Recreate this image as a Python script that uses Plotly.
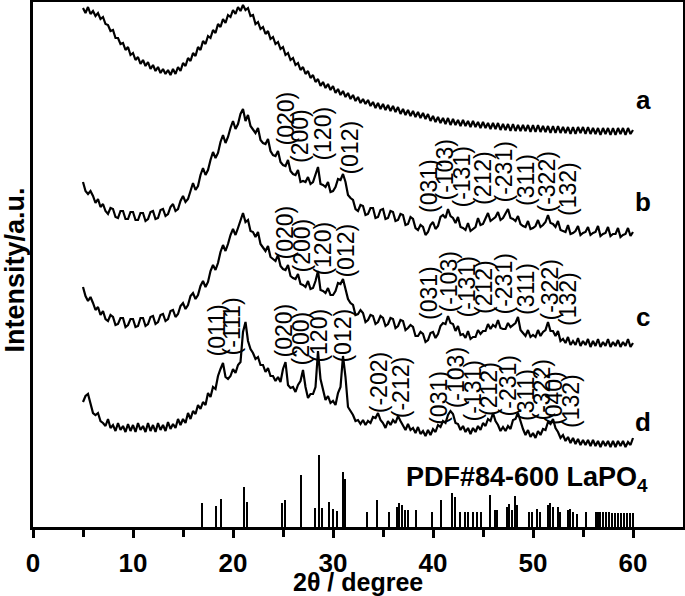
import plotly.graph_objects as go

# 2-theta sampling grid (degrees), step 0.25
two_theta = [
    5.0, 5.25, 5.5, 5.75, 6.0, 6.25, 6.5, 6.75, 7.0, 7.25, 7.5, 7.75, 8.0, 8.25, 8.5, 8.75,
    9.0, 9.25, 9.5, 9.75, 10.0, 10.25, 10.5, 10.75, 11.0, 11.25, 11.5, 11.75, 12.0, 12.25, 12.5, 12.75,
    13.0, 13.25, 13.5, 13.75, 14.0, 14.25, 14.5, 14.75, 15.0, 15.25, 15.5, 15.75, 16.0, 16.25, 16.5, 16.75,
    17.0, 17.25, 17.5, 17.75, 18.0, 18.25, 18.5, 18.75, 19.0, 19.25, 19.5, 19.75, 20.0, 20.25, 20.5, 20.75,
    21.0, 21.25, 21.5, 21.75, 22.0, 22.25, 22.5, 22.75, 23.0, 23.25, 23.5, 23.75, 24.0, 24.25, 24.5, 24.75,
    25.0, 25.25, 25.5, 25.75, 26.0, 26.25, 26.5, 26.75, 27.0, 27.25, 27.5, 27.75, 28.0, 28.25, 28.5, 28.75,
    29.0, 29.25, 29.5, 29.75, 30.0, 30.25, 30.5, 30.75, 31.0, 31.25, 31.5, 31.75, 32.0, 32.25, 32.5, 32.75,
    33.0, 33.25, 33.5, 33.75, 34.0, 34.25, 34.5, 34.75, 35.0, 35.25, 35.5, 35.75, 36.0, 36.25, 36.5, 36.75,
    37.0, 37.25, 37.5, 37.75, 38.0, 38.25, 38.5, 38.75, 39.0, 39.25, 39.5, 39.75, 40.0, 40.25, 40.5, 40.75,
    41.0, 41.25, 41.5, 41.75, 42.0, 42.25, 42.5, 42.75, 43.0, 43.25, 43.5, 43.75, 44.0, 44.25, 44.5, 44.75,
    45.0, 45.25, 45.5, 45.75, 46.0, 46.25, 46.5, 46.75, 47.0, 47.25, 47.5, 47.75, 48.0, 48.25, 48.5, 48.75,
    49.0, 49.25, 49.5, 49.75, 50.0, 50.25, 50.5, 50.75, 51.0, 51.25, 51.5, 51.75, 52.0, 52.25, 52.5, 52.75,
    53.0, 53.25, 53.5, 53.75, 54.0, 54.25, 54.5, 54.75, 55.0, 55.25, 55.5, 55.75, 56.0, 56.25, 56.5, 56.75,
    57.0, 57.25, 57.5, 57.75, 58.0, 58.25, 58.5, 58.75, 59.0, 59.25, 59.5, 59.75, 60.0]

# stacked intensities (offset, a.u.), one row per degree
curve_a = [
    519, 514, 520, 513, 516, 511, 514, 508, 510, 503, 502, 496, 497, 489, 489, 483,
    484, 477, 480, 472, 474, 467, 470, 463, 467, 461, 465, 458, 462, 456, 460, 454,
    458, 453, 457, 452, 458, 453, 460, 456, 464, 461, 469, 466, 474, 471, 480, 477,
    486, 483, 491, 489, 497, 494, 503, 500, 508, 504, 512, 510, 517, 513, 520, 516,
    522, 517, 519, 511, 512, 503, 505, 498, 500, 493, 496, 488, 490, 483, 485, 478,
    480, 472, 474, 467, 469, 462, 464, 457, 460, 453, 456, 449, 452, 445, 448, 441,
    445, 439, 443, 437, 441, 434, 438, 432, 436, 430, 434, 428, 432, 426, 430, 424,
    428, 423, 427, 421, 425, 419, 424, 418, 423, 417, 422, 416, 421, 415, 420, 413,
    418, 412, 417, 411, 416, 410, 415, 409, 414, 408, 413, 406, 411, 405, 410, 404,
    409, 403, 409, 402, 408, 402, 407, 401, 407, 401, 406, 400, 406, 400, 405, 399,
    405, 399, 404, 398, 404, 398, 404, 397, 403, 397, 403, 396, 403, 396, 402, 396,
    402, 396, 402, 395, 402, 395, 402, 395, 401, 395, 401, 394, 401, 394, 401, 394,
    400, 394, 400, 393, 400, 393, 400, 394, 400, 393, 400, 393, 399, 393, 399, 392,
    399, 393, 399, 392, 399, 392, 399, 393, 399, 392, 399, 393, 397]

curve_b = [
    345, 336, 333, 336, 331, 324, 328, 320, 323, 316, 313, 319, 318, 310, 309, 316,
    316, 308, 308, 315, 315, 307, 307, 314, 314, 306, 308, 315, 316, 308, 309, 317,
    318, 311, 313, 320, 323, 316, 318, 326, 331, 325, 328, 337, 344, 337, 341, 352,
    359, 352, 357, 367, 375, 369, 374, 385, 392, 384, 390, 399, 406, 398, 403, 413,
    418, 406, 412, 401, 398, 394, 399, 387, 384, 383, 388, 376, 372, 371, 376, 365,
    362, 361, 367, 356, 353, 352, 357, 345, 346, 345, 350, 343, 345, 352, 360, 343,
    342, 340, 345, 335, 336, 340, 348, 347, 353, 345, 332, 329, 327, 318, 316, 322,
    321, 312, 313, 319, 319, 309, 310, 317, 318, 308, 309, 316, 315, 306, 307, 313,
    312, 302, 303, 310, 308, 299, 297, 302, 300, 292, 295, 302, 305, 298, 301, 310,
    312, 309, 318, 311, 309, 304, 310, 300, 299, 297, 304, 296, 298, 300, 309, 302,
    303, 308, 314, 306, 308, 310, 315, 307, 309, 313, 318, 309, 308, 306, 311, 303,
    301, 300, 306, 298, 299, 301, 307, 300, 302, 305, 312, 304, 303, 300, 306, 297,
    296, 295, 302, 293, 294, 296, 301, 292, 294, 295, 300, 292, 294, 295, 301, 291,
    293, 294, 300, 291, 293, 293, 299, 290, 292, 293, 299, 291, 295]

curve_c = [
    240, 231, 226, 230, 224, 217, 220, 212, 216, 208, 206, 212, 210, 202, 203, 209,
    209, 200, 202, 208, 208, 200, 201, 209, 209, 201, 203, 210, 211, 203, 205, 212,
    213, 206, 208, 216, 217, 210, 213, 221, 224, 218, 222, 231, 234, 228, 232, 241,
    246, 240, 245, 256, 262, 257, 264, 275, 282, 276, 283, 292, 298, 292, 299, 307,
    314, 305, 307, 296, 295, 290, 295, 283, 280, 276, 281, 270, 268, 266, 272, 261,
    258, 257, 262, 251, 249, 248, 253, 243, 242, 240, 246, 238, 239, 246, 256, 237,
    236, 234, 239, 232, 232, 236, 244, 243, 248, 238, 228, 224, 222, 212, 213, 217,
    214, 205, 207, 212, 211, 203, 205, 211, 209, 201, 203, 209, 208, 199, 201, 207,
    206, 197, 199, 202, 200, 191, 191, 195, 193, 185, 187, 194, 195, 189, 193, 201,
    204, 203, 211, 204, 203, 196, 201, 192, 193, 189, 196, 188, 190, 190, 197, 193,
    196, 196, 203, 198, 202, 200, 207, 199, 198, 198, 204, 200, 202, 204, 210, 197,
    194, 191, 197, 190, 192, 190, 197, 191, 195, 197, 205, 196, 196, 191, 196, 186,
    188, 184, 190, 182, 186, 182, 189, 181, 186, 182, 188, 180, 186, 181, 188, 180,
    185, 181, 188, 180, 185, 181, 187, 180, 185, 181, 188, 180, 184]

curve_d = [
    125, 131, 133, 122, 114, 112, 114, 106, 104, 101, 108, 99, 102, 96, 104, 97,
    101, 95, 103, 96, 102, 95, 104, 97, 101, 95, 104, 96, 102, 95, 104, 97,
    102, 96, 105, 98, 103, 99, 108, 102, 108, 104, 114, 108, 116, 113, 122, 118,
    125, 122, 134, 130, 140, 138, 151, 158, 164, 150, 148, 151, 158, 154, 162, 165,
    195, 205, 186, 178, 174, 168, 170, 162, 162, 155, 159, 151, 151, 146, 150, 145,
    158, 165, 142, 139, 140, 135, 142, 146, 157, 140, 129, 133, 133, 140, 176, 148,
    136, 127, 131, 124, 126, 122, 134, 140, 171, 150, 120, 116, 112, 106, 107, 103,
    107, 102, 106, 104, 110, 109, 114, 107, 104, 99, 106, 102, 107, 104, 111, 106,
    102, 97, 103, 97, 99, 94, 100, 93, 96, 91, 97, 92, 98, 95, 102, 100,
    106, 104, 112, 116, 113, 104, 103, 97, 101, 95, 99, 93, 99, 95, 101, 97,
    104, 101, 108, 106, 114, 106, 102, 96, 100, 96, 101, 98, 107, 108, 114, 105,
    98, 92, 97, 90, 94, 89, 96, 92, 98, 97, 105, 103, 108, 99, 95, 89,
    92, 86, 90, 84, 89, 83, 88, 82, 87, 82, 87, 81, 87, 81, 86, 80,
    86, 81, 86, 80, 86, 80, 86, 81, 86, 80, 85, 82, 89]

# PDF#84-600 LaPO4 reference lines
pdf_pos = [16.9, 18.3, 18.8, 21.1, 21.4, 24.9, 25.2, 26.8, 28.2, 28.6, 28.9, 29.6, 30.0, 30.4,
           31.0, 31.2, 33.4, 34.4, 35.6, 36.4, 36.6, 36.9, 37.2, 37.5, 38.3, 39.9, 40.8, 41.9,
           42.2, 42.7, 43.2, 43.5, 44.0, 44.4, 44.8, 45.7, 46.2, 46.4, 47.4, 47.6, 47.9, 48.2,
           48.4, 49.6, 49.9, 50.4, 50.7, 51.5, 51.7, 52.0, 52.5, 52.7, 53.5, 53.7, 54.0, 54.4,
           55.3, 56.3, 56.5, 56.7, 57.0, 57.3, 57.6, 57.9, 58.2, 58.5, 58.8, 59.1, 59.4, 59.7, 60.0]
pdf_int = [24, 21, 28, 40, 25, 24, 27, 52, 19, 72, 19, 25, 18, 16,
           55, 48, 15, 27, 15, 20, 24, 22, 17, 17, 17, 15, 27, 34,
           30, 15, 15, 15, 15, 15, 15, 32, 17, 17, 20, 23, 17, 31,
           22, 15, 15, 18, 15, 22, 24, 20, 20, 15, 17, 18, 15, 13,
           15, 15, 15, 15, 15, 15, 15, 14, 14, 14, 14, 14, 14, 14, 14]

# hkl labels: text, peak position, label base height
b_hkl = ['(020)', '(200)', '(120)', '(012)', '(031)', '(-103)', '(-131)', '(212)',
         '(-231)', '(311)', '(-322)', '(132)']
b_hkl_x = [25.25, 26.7, 28.96, 31.66, 39.6, 41.1, 42.8, 45.0, 47.0, 49.3, 51.3, 53.5]
b_hkl_y = [379, 362, 364, 350, 312, 324, 317, 320, 322, 319, 312, 309]

c_hkl = ['(020)', '(200)', '(120)', '(012)', '(031)', '(-103)', '(-131)', '(212)',
         '(-231)', '(311)', '(-322)', '(132)']
c_hkl_x = [25.15, 26.85, 28.96, 31.26, 39.6, 41.5, 43.3, 45.1, 47.0, 49.3, 51.6, 53.5]
c_hkl_y = [265, 252, 249, 247, 205, 212, 207, 211, 210, 210, 204, 199]

d_hkl = ['(011)', '(-111)', '(020)', '(200)', '(120)', '(012)', '(-202)', '(-212)',
         '(031)', '(-103)', '(-131)', '(212)', '(-231)', '(311)', '(-322)', '(040)', '(132)']
d_hkl_x = [18.44, 19.94, 25.05, 26.75, 28.56, 30.96, 34.57, 36.77,
           40.58, 42.28, 43.99, 45.59, 47.49, 49.3, 50.8, 52.1, 53.8]
d_hkl_y = [169, 170, 167, 159, 162, 162, 112, 107,
           100, 117, 104, 109, 109, 104, 104, 100, 97]

curve_names = ['a', 'b', 'c', 'd']
name_y = [427, 325, 210, 105]

FONT = 'Arial, Liberation Sans, sans-serif'

fig = go.Figure()

for y in [curve_a, curve_b, curve_c, curve_d]:
    fig.add_trace(go.Scatter(x=two_theta, y=y, mode='lines',
                             line=dict(color='black', width=2.2), showlegend=False))

# stick pattern
fig.add_trace(go.Bar(x=pdf_pos, y=pdf_int, width=0.16,
                     marker=dict(color='black', line=dict(width=0)), showlegend=False))

annotations = []
for names, xs, ys in [(b_hkl, b_hkl_x, b_hkl_y), (c_hkl, c_hkl_x, c_hkl_y), (d_hkl, d_hkl_x, d_hkl_y)]:
    for t, x, y in zip(names, xs, ys):
        annotations.append(dict(x=x, y=y, text=t, textangle=-90, showarrow=False,
                                xanchor='center', yanchor='bottom',
                                font=dict(family=FONT, size=23, color='black')))

for n, y in zip(curve_names, name_y):
    annotations.append(dict(x=61.0, y=y, text='<b>%s</b>' % n, showarrow=False,
                            xanchor='center', yanchor='middle',
                            font=dict(family=FONT, size=26, color='black')))

annotations.append(dict(x=49.4, y=48, text='<b>PDF#84-600 LaPO<sub>4</sub></b>', showarrow=False,
                        xanchor='center', yanchor='middle',
                        font=dict(family=FONT, size=27, color='black')))

# axis titles
annotations.append(dict(xref='paper', yref='paper', x=0.5, y=-0.105, text='<b>2θ / degree</b>',
                        showarrow=False, xanchor='center', yanchor='middle',
                        font=dict(family=FONT, size=25, color='black')))
annotations.append(dict(xref='paper', yref='paper', x=-0.028, y=0.49, text='<b>Intensity/a.u.</b>',
                        textangle=-90, showarrow=False, xanchor='center', yanchor='middle',
                        font=dict(family=FONT, size=27, color='black')))

fig.update_layout(
    width=685, height=596,
    margin=dict(l=33, r=2, t=2, b=69),
    paper_bgcolor='white', plot_bgcolor='white',
    bargap=0,
    annotations=annotations,
    font=dict(family=FONT, color='black'),
)

fig.update_xaxes(range=[0, 65], showgrid=False, zeroline=False, automargin=False,
                 showline=True, linecolor='black', linewidth=3, mirror=True,
                 ticks='outside', ticklen=8, tickwidth=3, tickcolor='black',
                 tickvals=[0, 10, 20, 30, 40, 50, 60],
                 ticktext=['<b>0</b>', '<b>10</b>', '<b>20</b>', '<b>30</b>', '<b>40</b>', '<b>50</b>', '<b>60</b>'],
                 tickfont=dict(family=FONT, size=26, color='black'),
                 ticklabelstandoff=3,
                 minor=dict(tickvals=[5, 15, 25, 35, 45, 55], ticks='outside', ticklen=7,
                            tickwidth=3, tickcolor='black'))

fig.update_yaxes(range=[0, 525], showgrid=False, zeroline=False, automargin=False,
                 showline=True, linecolor='black', linewidth=3, mirror=True,
                 ticks='', showticklabels=False)

# page body has a default 8px margin; drop it so the figure fills the window
fig.write_html("out.html", config={'displayModeBar': False},
               post_script="document.body.style.margin='0';")
